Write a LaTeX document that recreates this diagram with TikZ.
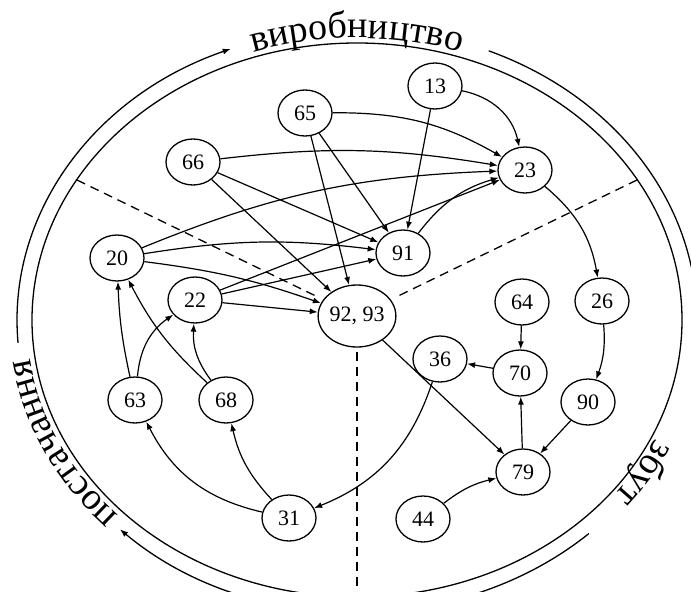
\documentclass[tikz,border=0pt]{standalone}
\usepackage{fontspec}
\setmainfont{Liberation Serif}
\usetikzlibrary{shapes.geometric,arrows.meta,decorations.text}
\newcommand\lblfont{\fontsize{19}{22}\selectfont}
\begin{document}
\begin{tikzpicture}[x=0.5pt,y=0.5pt,
  nd/.style={draw, ellipse, line width=0.65pt, minimum width=27pt, minimum height=23pt, inner sep=0pt, font=\fontsize{11}{13}\selectfont},
  big/.style={nd, minimum width=38pt, minimum height=31pt},
  ar/.style={-{Latex[length=4pt,width=3pt]}, line width=0.6pt},
  dsh/.style={dash pattern=on 4.5pt off 3pt, line width=0.65pt},
  ring/.style={line width=0.65pt},
  ringar/.style={ring, -{Latex[length=4pt,width=3pt]}},
  lbl/.style={decorate, decoration={text along path, text align=center, text={#1}}}
]
\useasboundingbox (0,0) rectangle (691,591);
\clip (0,0) rectangle (691,591);
\coordinate (C) at (357,271);
% inner ring
\draw[ring] (C) ellipse [x radius=325, y radius=277];
% outer arcs and labels
\begin{scope}[shift={(C)}]
  \draw[ringar] (184.5:340 and 292) arc[start angle=184.5, end angle=111.8, x radius=340, y radius=292];
  \draw[ring] (67.2:340 and 292) arc[start angle=67.2, end angle=-8, x radius=340, y radius=292];
  \draw[ringar] (-47:340 and 292) arc[start angle=-47, end angle=-134.2, x radius=340, y radius=292];
  \path[lbl={|\lblfont|виробництво}] (130:330 and 282) arc[start angle=130, end angle=50, x radius=330, y radius=282];
  \path[lbl={|\lblfont|постачання}] (240:330 and 282) arc[start angle=240, end angle=170, x radius=330, y radius=282];
  \path[lbl={|\lblfont|збут}] (-5:329 and 281) arc[start angle=-5, end angle=-57, x radius=329, y radius=281];
\end{scope}
% nodes
\node[nd] (n13) at (435,505) {13};
\node[nd] (n65) at (305,478) {65};
\node[nd] (n66) at (193,429) {66};
\node[nd] (n23) at (525,421) {23};
\node[nd] (n20) at (117,333) {20};
\node[nd] (n91) at (403,338) {91};
\node[nd] (n22) at (195,291) {22};
\node[big] (n92) at (357,275) {92, 93};
\node[nd] (n64) at (522,289) {64};
\node[nd] (n26) at (602,290) {26};
\node[nd] (n36) at (440,232) {36};
\node[nd] (n70) at (520,218) {70};
\node[nd] (n63) at (135,191) {63};
\node[nd] (n68) at (226,191) {68};
\node[nd] (n90) at (588,189) {90};
\node[nd] (n79) at (523,119) {79};
\node[nd] (n31) at (289,73) {31};
\node[nd] (n44) at (423,72) {44};
% sector dividers
\coordinate (dL) at (77,411);
\coordinate (dR) at (637,411);
\coordinate (dB) at (357,-10);
\draw[dsh, shorten >=3pt] (dL) -- (n92);
\draw[dsh, shorten >=3pt] (dR) -- (n92);
\draw[dsh, shorten <=2pt] (n92) -- (dB);
% connectors
\draw[ar] (n13) to[bend left=33] (n23);
\draw[ar] (n13) -- (n91);
\draw[ar] (n65) to[bend left=15] (n23);
\draw[ar] (n65) -- (n91);
\draw[ar] (n65) -- (n92);
\draw[ar] (n66) to[bend left=8] (n23);
\draw[ar] (n66) -- (n91);
\draw[ar] (n66) -- (n92);
\draw[ar] (n20) to[bend left=10] (n23);
\draw[ar] (n20) to[bend left=8] (n91);
\draw[ar] (n20) to[bend left=6] (n92);
\draw[ar] (n22) -- (n23);
\draw[ar] (n22) -- (n91);
\draw[ar] (n22) -- (n92);
\draw[ar] (n91) to[bend left=18] (n23);
\draw[ar] (n23) to[bend left=20] (n26);
\draw[ar] (n26) to[bend left=12] (n90);
\draw[ar] (n90) -- (n79);
\draw[ar] (n64) -- (n70);
\draw[ar] (n70) -- (n36);
\draw[ar] (n79) -- (n70);
\draw[ar] (n92) -- (n79);
\draw[ar] (n44) to[bend left=12] (n79);
\draw[ar] (n36) to[bend left=25] (n31);
\draw[ar] (n31) to[bend left=25] (n63);
\draw[ar] (n31) to[bend left=15] (n68);
\draw[ar] (n63) to[bend left=5] (n20);
\draw[ar] (n63) to[bend left=25] (n22);
\draw[ar] (n68) to[bend left=10] (n20);
\draw[ar] (n68) to[bend left=20] (n22);
\end{tikzpicture}
\end{document}
